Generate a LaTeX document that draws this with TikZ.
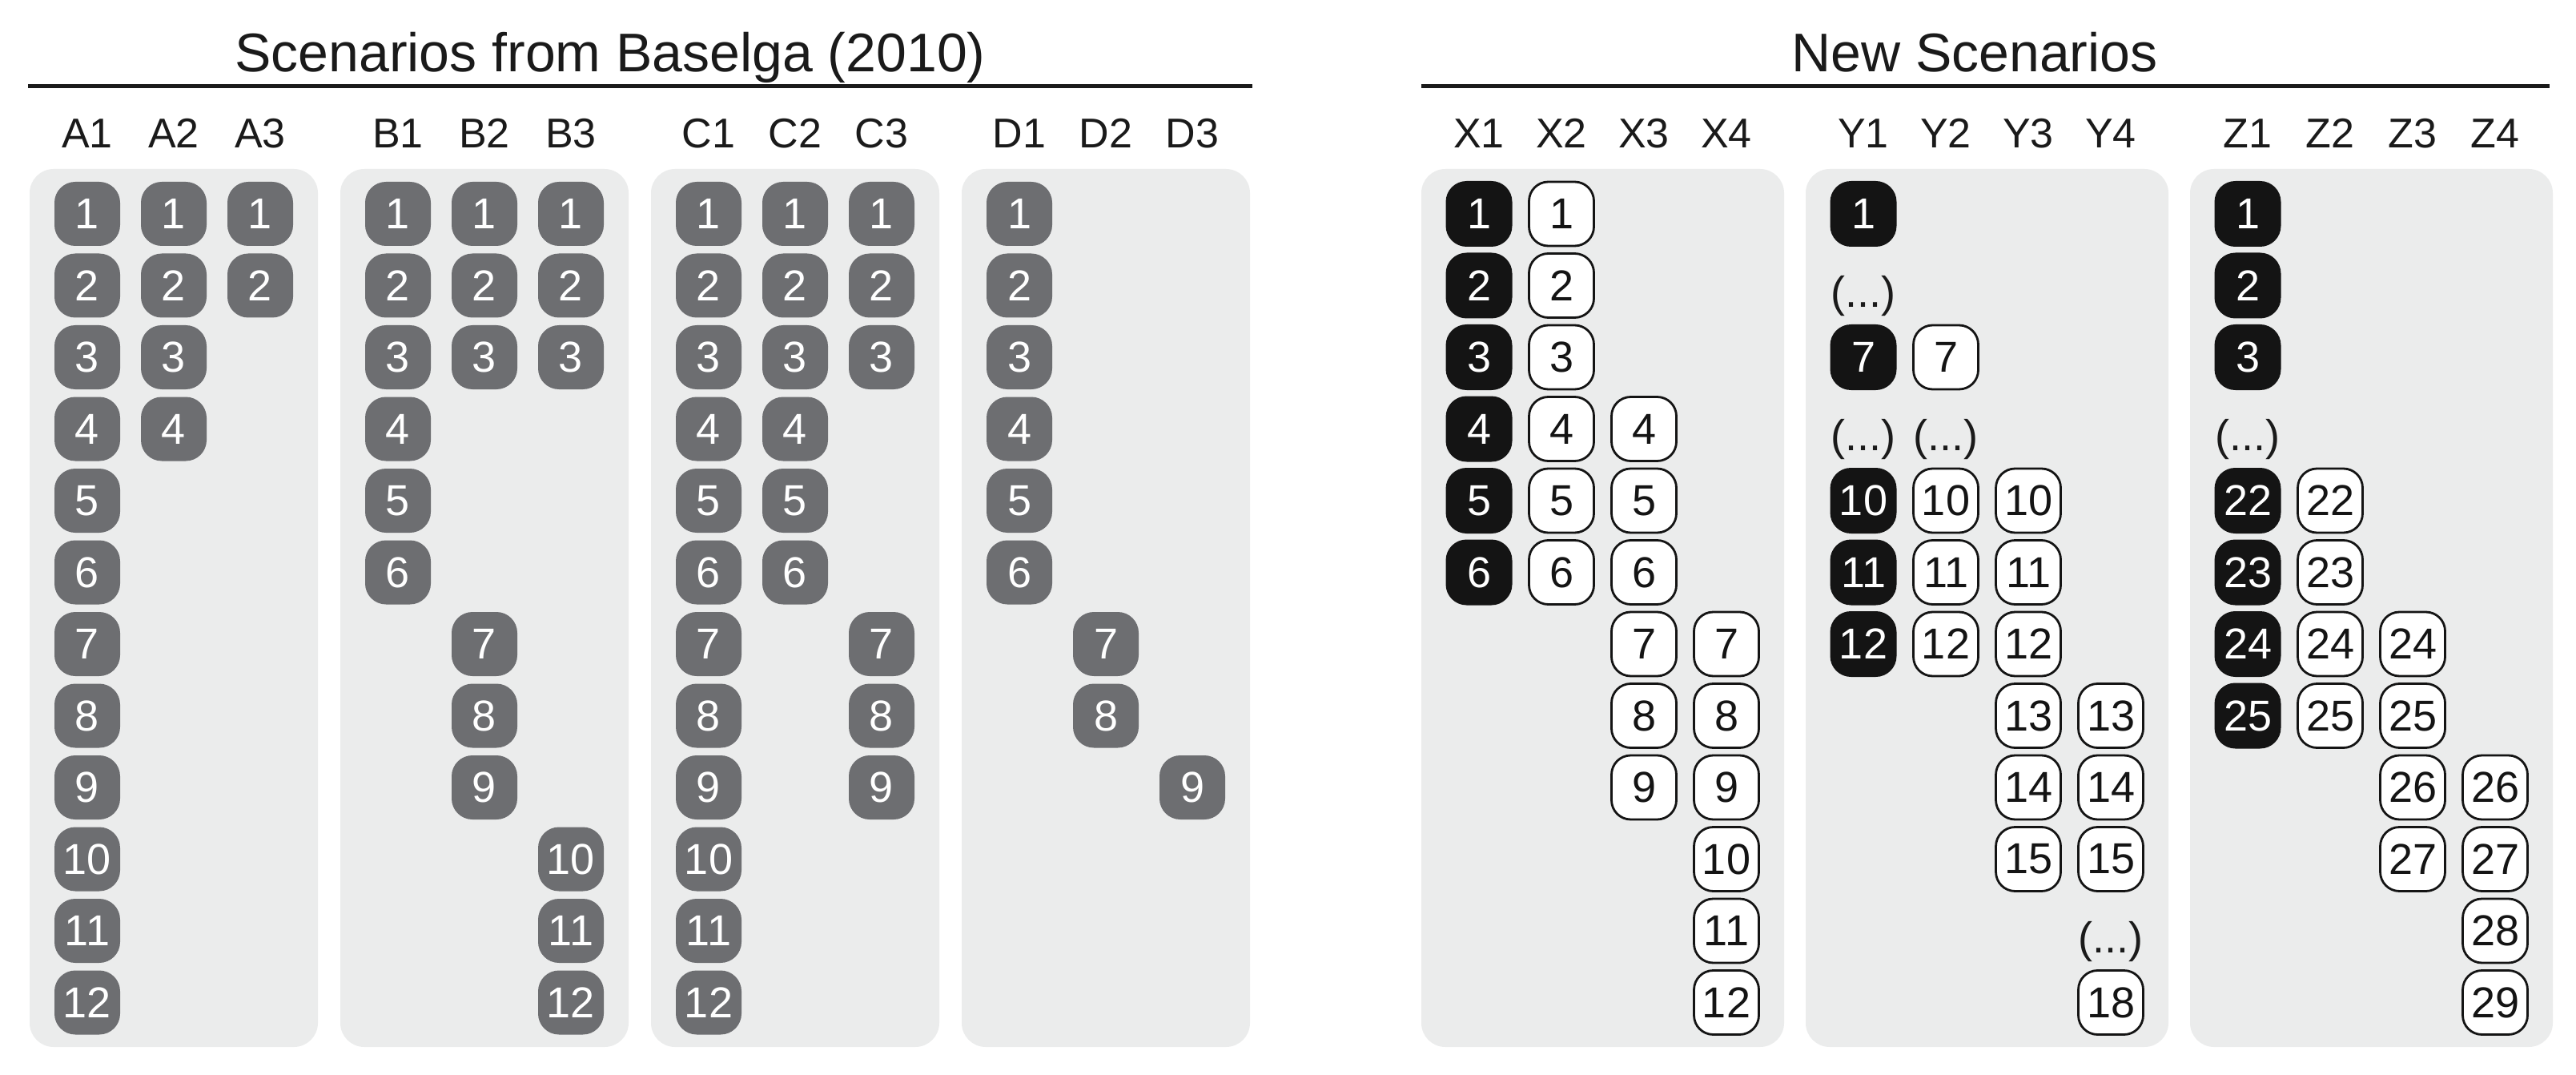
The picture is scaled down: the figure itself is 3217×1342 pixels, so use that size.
\documentclass[tikz,border=0pt]{standalone}
\usepackage{fontspec}
\setmainfont{Liberation Sans}
\definecolor{panelgray}{HTML}{EBECEC}
\definecolor{oldgray}{HTML}{6D6E71}
\definecolor{newblack}{HTML}{141414}
\definecolor{inkcol}{HTML}{1A1A1A}
\tikzset{
  panel/.style={fill=panelgray, rounded corners=15pt},
  numfont/.style={font=\fontsize{27}{27}\selectfont},
  oldbox/.style={numfont, fill=oldgray, text=white, rounded corners=13pt,
    minimum width=41pt, minimum height=40pt, inner sep=0pt},
  blackbox/.style={numfont, fill=newblack, text=white, rounded corners=13pt,
    minimum width=41.5pt, minimum height=41pt, inner sep=0pt},
  whitebox/.style={numfont, fill=white, draw=newblack, line width=1.4pt, text=newblack,
    rounded corners=12pt, minimum width=40.5pt, minimum height=40pt, inner sep=0pt},
  colhead/.style={anchor=base, font=\fontsize{26}{26}\selectfont, text=inkcol, inner sep=0pt},
  maintitle/.style={anchor=base, font=\fontsize{34}{34}\selectfont, text=inkcol, inner sep=0pt},
  dotstext/.style={anchor=base, font=\fontsize{27}{27}\selectfont, text=inkcol, inner sep=0pt},
  titlerule/.style={line width=2.5pt, draw=inkcol}
}
\begin{document}
\begin{tikzpicture}[x=0.5pt, y=-0.5pt]
\useasboundingbox (0,0) rectangle (3217,1342);
\fill[white] (0,0) rectangle (3217,1342);

% titles and rules
\node[maintitle] (toldtitle) at (762,90) {Scenarios from Baselga (2010)};
\node[maintitle] (tnewtitle) at (2466,90) {New Scenarios};
\coordinate (oldruleL) at (35,108);
\coordinate (oldruleR) at (1564,108);
\coordinate (newruleL) at (1775,108);
\coordinate (newruleR) at (3184,108);
\draw[titlerule] (oldruleL) -- (oldruleR);
\draw[titlerule] (newruleL) -- (newruleR);

% old panels and headers
\foreach \p/\L in {A/37,B/425,C/813,D/1201}{
  \fill[panel] (\L,211) rectangle ++(360,1096);
  \foreach \k in {1,2,3}{
    \node[colhead] (h\p\k) at ({\L+72+108*(\k-1)},185) {\p\k};
  }
}
% new panels and headers
\foreach \p/\L in {X/1775,Y/2255,Z/2735}{
  \fill[panel] (\L,211) rectangle ++(453,1096);
  \foreach \k in {1,2,3,4}{
    \node[colhead] (h\p\k) at ({\L+72+103*(\k-1)},185) {\p\k};
  }
}

% old boxes
\foreach \name/\cx/\rows in {
  A1/109/{1,2,3,4,5,6,7,8,9,10,11,12}, A2/217/{1,2,3,4}, A3/325/{1,2},
  B1/497/{1,2,3,4,5,6}, B2/605/{1,2,3,7,8,9}, B3/713/{1,2,3,10,11,12},
  C1/885/{1,2,3,4,5,6,7,8,9,10,11,12}, C2/993/{1,2,3,4,5,6}, C3/1101/{1,2,3,7,8,9},
  D1/1273/{1,2,3,4,5,6}, D2/1381/{7,8}, D3/1489/{9}}{
  \foreach \r in \rows{
    \node[oldbox] (\name-\r) at (\cx,{267+89.5*(\r-1)}) {\r};
  }
}

% new black boxes
\foreach \name/\cx/\items in {
  X1/1847/{1/1,2/2,3/3,4/4,5/5,6/6},
  Y1/2327/{1/1,3/7,5/10,6/11,7/12},
  Z1/2807/{1/1,2/2,3/3,5/22,6/23,7/24,8/25}}{
  \foreach \r/\t in \items{
    \node[blackbox] (\name-\r) at (\cx,{267+89.5*(\r-1)}) {\t};
  }
}

% new white boxes
\foreach \name/\cx/\items in {
  X2/1950/{1/1,2/2,3/3,4/4,5/5,6/6},
  X3/2053/{4/4,5/5,6/6,7/7,8/8,9/9},
  X4/2156/{7/7,8/8,9/9,10/10,11/11,12/12},
  Y2/2430/{3/7,5/10,6/11,7/12},
  Y3/2533/{5/10,6/11,7/12,8/13,9/14,10/15},
  Y4/2636/{8/13,9/14,10/15,12/18},
  Z2/2910/{5/22,6/23,7/24,8/25},
  Z3/3013/{7/24,8/25,9/26,10/27},
  Z4/3116/{9/26,10/27,11/28,12/29}}{
  \foreach \r/\t in \items{
    \node[whitebox] (\name-\r) at (\cx,{267+89.5*(\r-1)}) {\t};
  }
}

% ellipses
\foreach \name/\cx/\r in {Y1/2327/2, Y1/2327/4, Y2/2430/4, Y4/2636/11, Z1/2807/4}{
  \node[dotstext] (\name-d\r) at (\cx,{267+89.5*(\r-1)+27}) {(...)};
}
\end{tikzpicture}
\end{document}
